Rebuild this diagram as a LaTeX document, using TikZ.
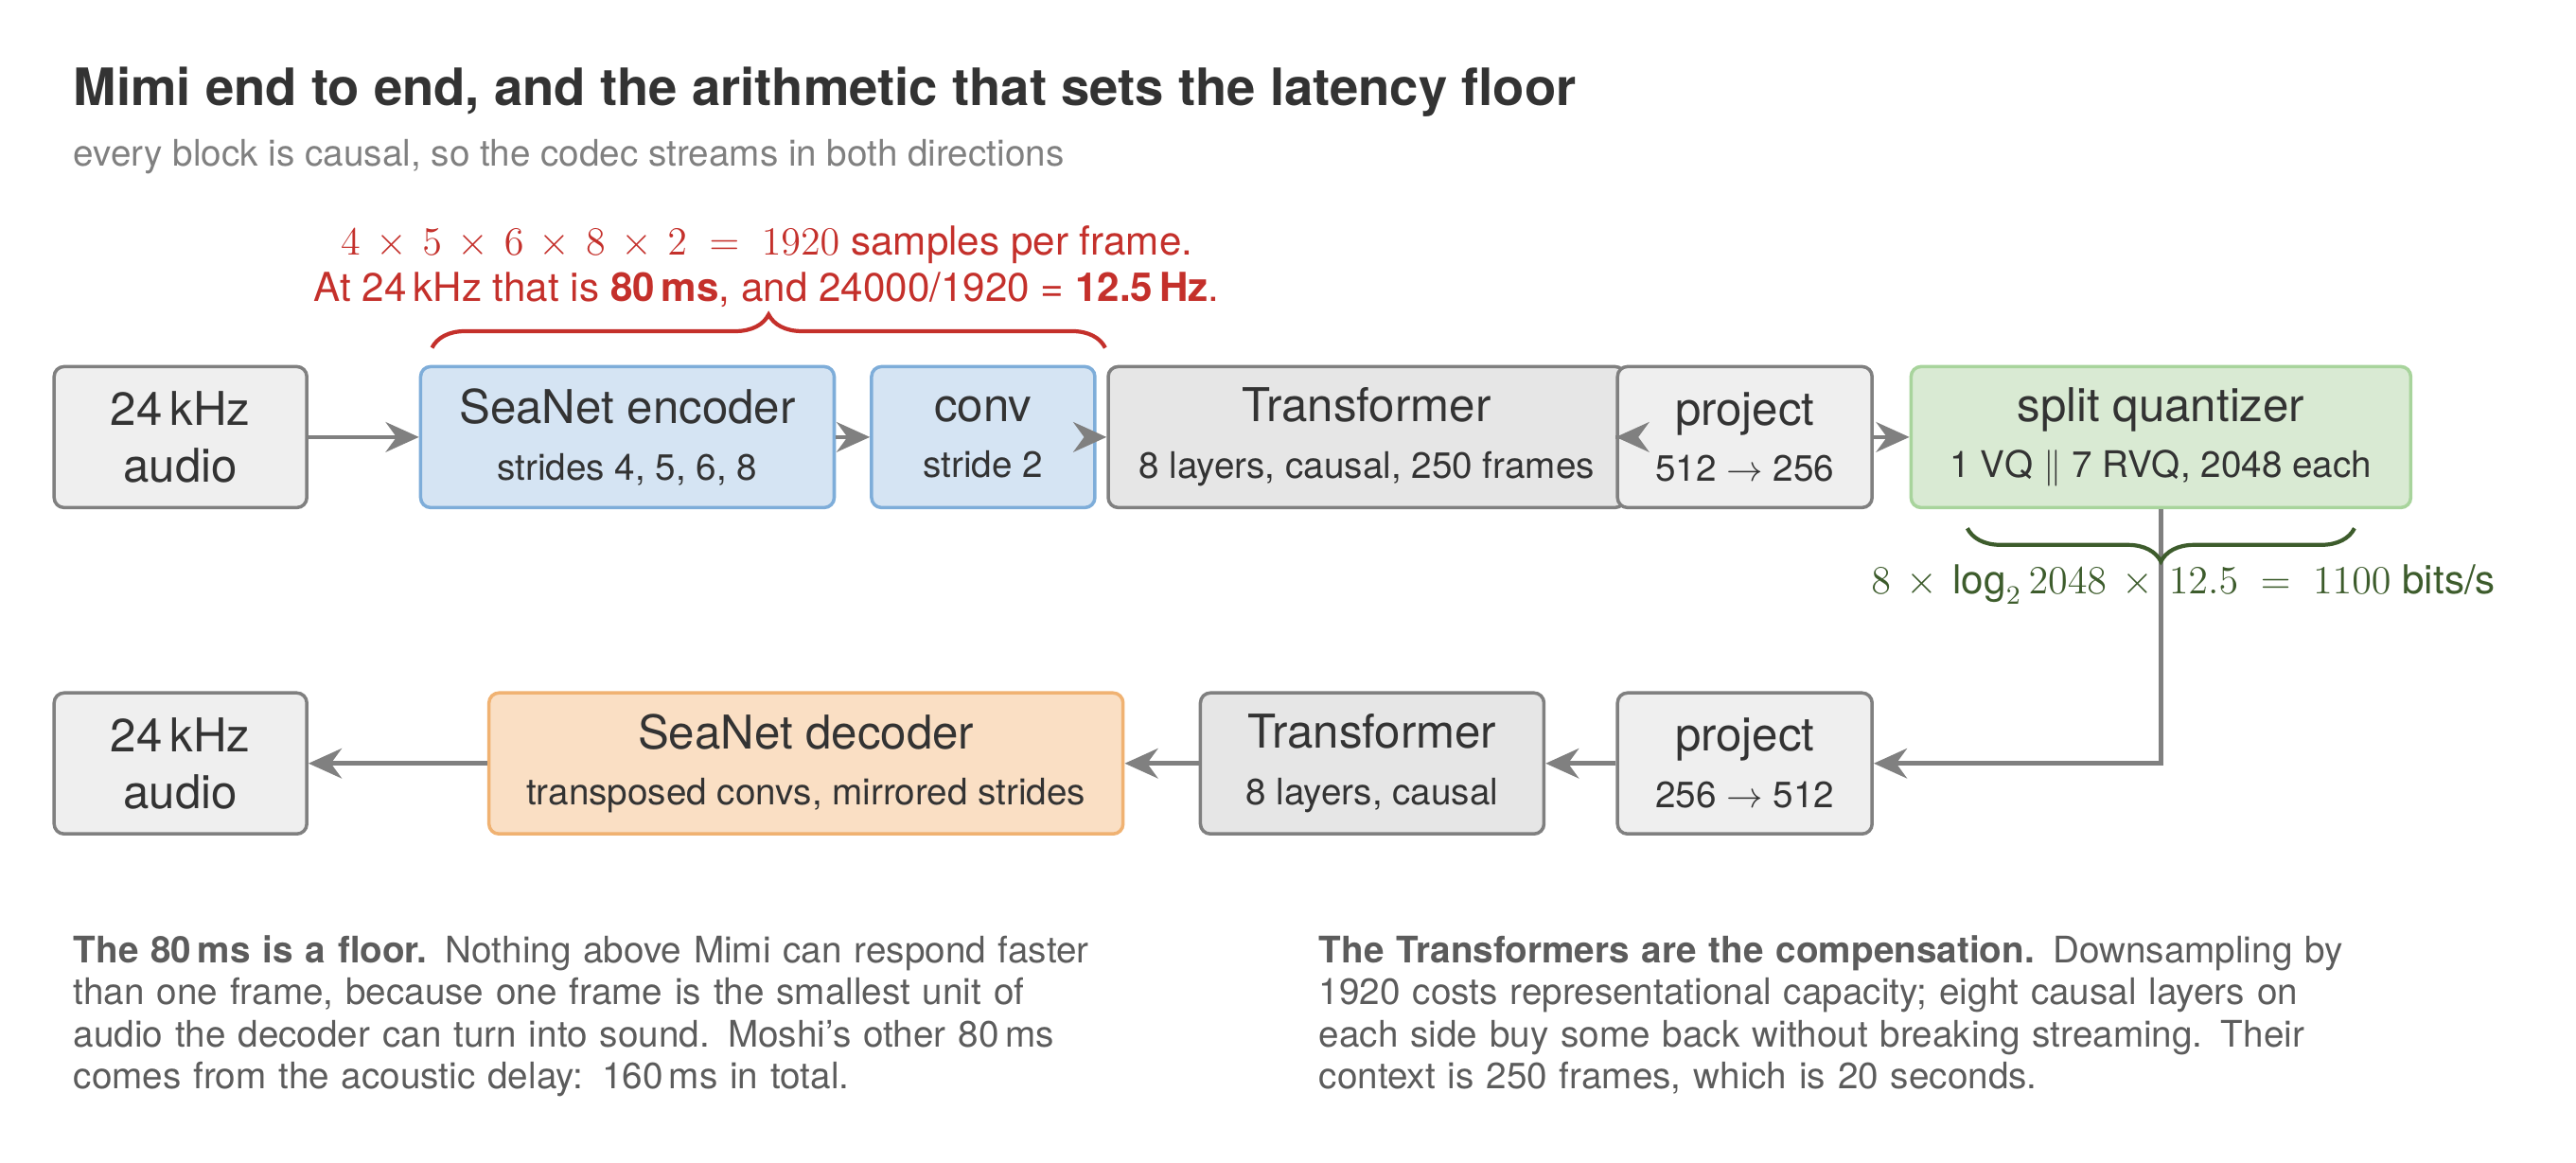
\documentclass[tikz,border=0pt]{standalone}
\usepackage{fontspec}
\setmainfont{TeX Gyre Heros}
\usetikzlibrary{positioning,arrows.meta,decorations.pathreplacing,calc}
\definecolor{ink}{HTML}{333333}
\definecolor{edge}{HTML}{808080}
\definecolor{bluef}{HTML}{D5E4F3}
\definecolor{blued}{HTML}{7EADD9}
\definecolor{greenf}{HTML}{D9EAD3}
\definecolor{greend}{HTML}{A8D49C}
\definecolor{orangef}{HTML}{FADFC4}
\definecolor{oranged}{HTML}{F0B272}
\definecolor{grayf}{HTML}{EFEFEF}
\definecolor{tranf}{HTML}{E6E6E6}
\definecolor{redt}{HTML}{C4302B}
\definecolor{greent}{HTML}{3D5C2C}
\tikzset{
  blk/.style={draw=edge, fill=grayf, rounded corners=3pt, line width=1pt, text=ink,
    align=center, minimum height=1.49cm, inner sep=0pt},
  enc/.style={blk, draw=blued, fill=bluef},
  quant/.style={blk, draw=greend, fill=greenf},
  dec/.style={blk, draw=oranged, fill=orangef},
  tran/.style={blk, fill=tranf},
  flow/.style={draw=edge, line width=1.3pt, -{Stealth[length=10pt,width=9pt]}},
}
\newcommand{\blktext}[2]{{\fontsize{14}{16}\selectfont #1}\\[5pt]{\fontsize{11}{13}\selectfont #2}}
\begin{document}
\begin{tikzpicture}[x=0.988cm,y=0.988cm]
  \useasboundingbox (0,0) rectangle (27.22/0.988,-12.29/0.988);
  % title
  \node[anchor=west, inner sep=0pt, text=ink, font=\bfseries\fontsize{15.5}{18}\selectfont] (title) at (0.78,-0.98)
    {Mimi end to end, and the arithmetic that sets the latency floor};
  \node[anchor=west, inner sep=0pt, text=edge, font=\fontsize{11}{13}\selectfont] (sub) at (0.78,-1.68)
    {every block is causal, so the codec streams in both directions};
  % encoder row
  \node[blk, minimum width=2.67cm] (ain) at (1.93,-4.675) {\blktext{24\,kHz}{\fontsize{14}{16}\selectfont audio}};
  \node[enc, minimum width=4.37cm] (senc) at (6.71,-4.675) {\blktext{SeaNet encoder}{strides 4, 5, 6, 8}};
  \node[enc, minimum width=2.36cm] (conv) at (10.515,-4.675) {\blktext{conv}{stride 2}};
  \node[tran, minimum width=5.46cm] (tenc) at (14.615,-4.675) {\blktext{Transformer}{8 layers, causal, 250 frames}};
  \node[blk, minimum width=2.69cm] (penc) at (18.66,-4.675) {\blktext{project}{512 $\rightarrow$ 256}};
  \node[quant, minimum width=5.28cm] (sq) at (23.11,-4.675) {\blktext{split quantizer}{1 VQ $\|$ 7 RVQ, 2048 each}};
  % decoder row
  \node[blk, minimum width=2.69cm] (pdec) at (18.66,-8.165) {\blktext{project}{256 $\rightarrow$ 512}};
  \node[tran, minimum width=3.63cm] (tdec) at (14.675,-8.165) {\blktext{Transformer}{8 layers, causal}};
  \node[dec, minimum width=6.70cm] (sdec) at (8.62,-8.165) {\blktext{SeaNet decoder}{transposed convs, mirrored strides}};
  \node[blk, minimum width=2.67cm] (aout) at (1.93,-8.165) {\blktext{24\,kHz}{\fontsize{14}{16}\selectfont audio}};
  % connectors
  \draw[flow] (ain) -- (senc);
  \draw[flow] (senc) -- (conv);
  \draw[flow] (conv) -- (tenc);
  \draw[flow] (penc.west) -- ++(0.05,0) -- (penc.west);
  \draw[flow] (penc) -- (sq);
  \draw[flow] (sq.south) |- (pdec.east);
  \draw[flow] (pdec) -- (tdec);
  \draw[flow] (tdec) -- (sdec);
  \draw[flow] (sdec) -- (aout);
  % frame arithmetic
  \draw[redt, line width=1.2pt, decorate, decoration={brace, amplitude=10pt}]
    (4.62,-3.72) -- (11.82,-3.72);
  \node[text=redt, align=center, font=\fontsize{12}{14}\selectfont] (frame) at (8.2,-2.85)
    {$4\,\times\,5\,\times\,6\,\times\,8\,\times\,2\;=\;1920$ samples per frame.\\
     At 24\,kHz that is \textbf{80\,ms}, and 24000/1920 = \textbf{12.5\,Hz}.};
  \draw[greent, line width=1.2pt, decorate, decoration={brace, amplitude=10pt}]
    (25.18,-5.65) -- (21.04,-5.65);
  \node[text=greent, font=\fontsize{12}{15}\selectfont] (rate) at (23.35,-6.25)
    {$8\,\times\,\log_2 2048\,\times\,12.5\;=\;1100$ bits/s};
  % notes
  \node[anchor=north west, inner sep=0pt, text width=11cm, align=left, text=ink!80, font=\fontsize{11}{12.6}\selectfont] (noteA) at (0.78,-10.0)
    {\textbf{The 80\,ms is a floor.} Nothing above Mimi can respond faster than one frame, because one frame is the smallest unit of audio the decoder can turn into sound. Moshi's other 80\,ms comes from the acoustic delay: 160\,ms in total.};
  \node[anchor=north west, inner sep=0pt, text width=11cm, align=left, text=ink!80, font=\fontsize{11}{12.6}\selectfont] (noteB) at (14.1,-10.0)
    {\textbf{The Transformers are the compensation.} Downsampling by 1920 costs representational capacity; eight causal layers on each side buy some back without breaking streaming. Their context is 250 frames, which is 20 seconds.};
\end{tikzpicture}
\end{document}
